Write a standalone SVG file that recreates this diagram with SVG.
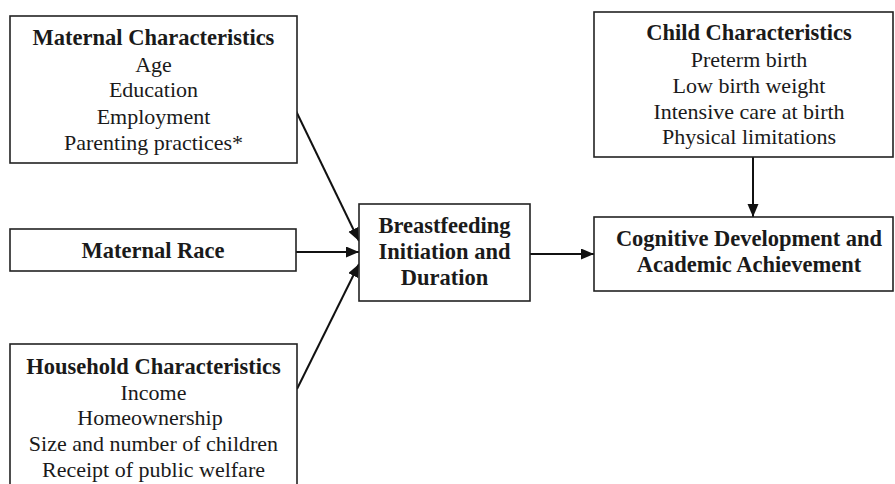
<svg xmlns="http://www.w3.org/2000/svg" width="895" height="484" viewBox="0 0 895 484">
<defs>
<style>
.box{fill:#fff;stroke:#222;stroke-width:1.6}
text{font-family:"Liberation Serif","Times New Roman",serif;font-size:22px;fill:#1a1a1a;text-anchor:middle}
.b{font-weight:bold;font-size:22.5px}
.edge{stroke:#111;stroke-width:2;fill:none;marker-end:url(#arr)}
</style>
<marker id="arr" markerUnits="userSpaceOnUse" markerWidth="14" markerHeight="12" refX="13" refY="5.5" orient="auto">
<path d="M0,0 L13,5.5 L0,11 Z" fill="#111"/>
</marker>
</defs>
<rect width="895" height="484" fill="#fff"/>
<g id="edges">
<line class="edge" x1="296" y1="111" x2="359" y2="241"/>
<line class="edge" x1="296" y1="252" x2="359" y2="252"/>
<line class="edge" x1="297" y1="389" x2="359" y2="264"/>
<line class="edge" x1="530" y1="254" x2="594" y2="254"/>
<line class="edge" x1="753" y1="157" x2="753" y2="217"/>
</g>
<g id="maternal-characteristics">
<rect class="box" x="10" y="16" width="287" height="147"/>
<text x="153.5" y="45" class="b">Maternal Characteristics</text>
<text x="153.5" y="72">Age</text>
<text x="153.5" y="97">Education</text>
<text x="153.5" y="124">Employment</text>
<text x="153.5" y="150">Parenting practices*</text>
</g>
<g id="maternal-race">
<rect class="box" x="10" y="229" width="286" height="42"/>
<text x="153" y="258" class="b">Maternal Race</text>
</g>
<g id="household-characteristics">
<rect class="box" x="10" y="344" width="287" height="150"/>
<text x="153.5" y="374" class="b">Household Characteristics</text>
<text x="153.5" y="400">Income</text>
<text x="150" y="425">Homeownership</text>
<text x="153.5" y="451">Size and number of children</text>
<text x="153.5" y="477">Receipt of public welfare</text>
</g>
<g id="breastfeeding">
<rect class="box" x="359" y="204" width="171" height="97"/>
<text x="444.5" y="233" class="b">Breastfeeding</text>
<text x="444.5" y="259" class="b">Initiation and</text>
<text x="444.5" y="285" class="b">Duration</text>
</g>
<g id="child-characteristics">
<rect class="box" x="594" y="12" width="299" height="145"/>
<text x="749" y="40" class="b">Child Characteristics</text>
<text x="749" y="67">Preterm birth</text>
<text x="749" y="93">Low birth weight</text>
<text x="749" y="119">Intensive care at birth</text>
<text x="749" y="144">Physical limitations</text>
</g>
<g id="cognitive">
<rect class="box" x="594" y="217" width="299" height="74"/>
<text x="749" y="246" class="b">Cognitive Development and</text>
<text x="749" y="272" class="b">Academic Achievement</text>
</g>
</svg>
